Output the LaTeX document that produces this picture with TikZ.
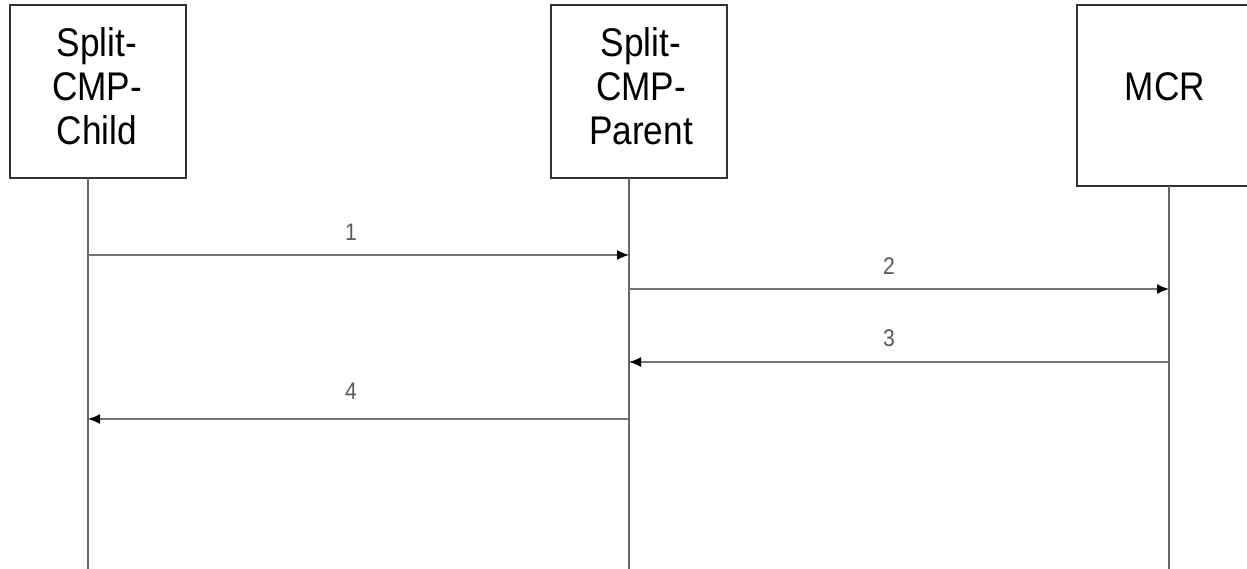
\documentclass[tikz,border=0pt]{standalone}
\usepackage{fontspec}
\setmainfont{Liberation Sans}
\newfontfamily\condfont[FakeStretch=0.88]{Liberation Sans}
\usetikzlibrary{arrows.meta}
\tikzset{
  actor/.style={draw=black!80, line width=2pt, fill=white, minimum width=176pt, inner sep=0pt},
  actortext/.style={align=center, font=\condfont\fontsize{40}{44}\selectfont, inner sep=0pt},
  life/.style={draw=black!60, line width=2pt},
  msg/.style={draw=black!55, line width=1.4pt, -{Latex[length=12pt,width=10pt,fill=black,color=black]}},
  lbl/.style={font=\condfont\fontsize{24}{26}\selectfont, text=black!65, inner sep=0pt}
}
\begin{document}
\begin{tikzpicture}[x=1pt,y=-1pt]
\useasboundingbox (0,0) rectangle (1247,569);
% boxes
\node[actor, minimum height=173pt] (child) at (97.5,91.5) {};
\node[actortext] (childt) at (97,86) {Split-\\CMP-\\Child};
\node[actor, minimum height=173pt] (parent) at (639,91.5) {};
\node[actortext] (parentt) at (641,86) {Split-\\CMP-\\Parent};
\node[actor, minimum height=181pt] (mcr) at (1165,95.5) {};
\node[actortext] (mcrt) at (1165,87) {MCR};
% lifelines
\coordinate (ctop) at (88,178);
\coordinate (cbot) at (88,569);
\coordinate (ptop) at (629,178);
\coordinate (pbot) at (629,569);
\coordinate (mtop) at (1169,186);
\coordinate (mbot) at (1169,569);
\draw[life] (ctop) -- (cbot);
\draw[life] (ptop) -- (pbot);
\draw[life] (mtop) -- (mbot);
% message endpoints
\coordinate (c1) at (88,255);
\coordinate (p1) at (629,255);
\coordinate (p2) at (629,289);
\coordinate (m2) at (1169,289);
\coordinate (m3) at (1169,362);
\coordinate (p3) at (629,362);
\coordinate (p4) at (629,419);
\coordinate (c4) at (88,419);
\draw[msg] (c1) -- (p1);
\draw[msg] (p2) -- (m2);
\draw[msg] (m3) -- (p3);
\draw[msg] (p4) -- (c4);
% labels
\node[lbl] (l1) at (351,232) {1};
\node[lbl] (l2) at (889,266) {2};
\node[lbl] (l3) at (889,338) {3};
\node[lbl] (l4) at (351,391) {4};
\end{tikzpicture}
\end{document}
